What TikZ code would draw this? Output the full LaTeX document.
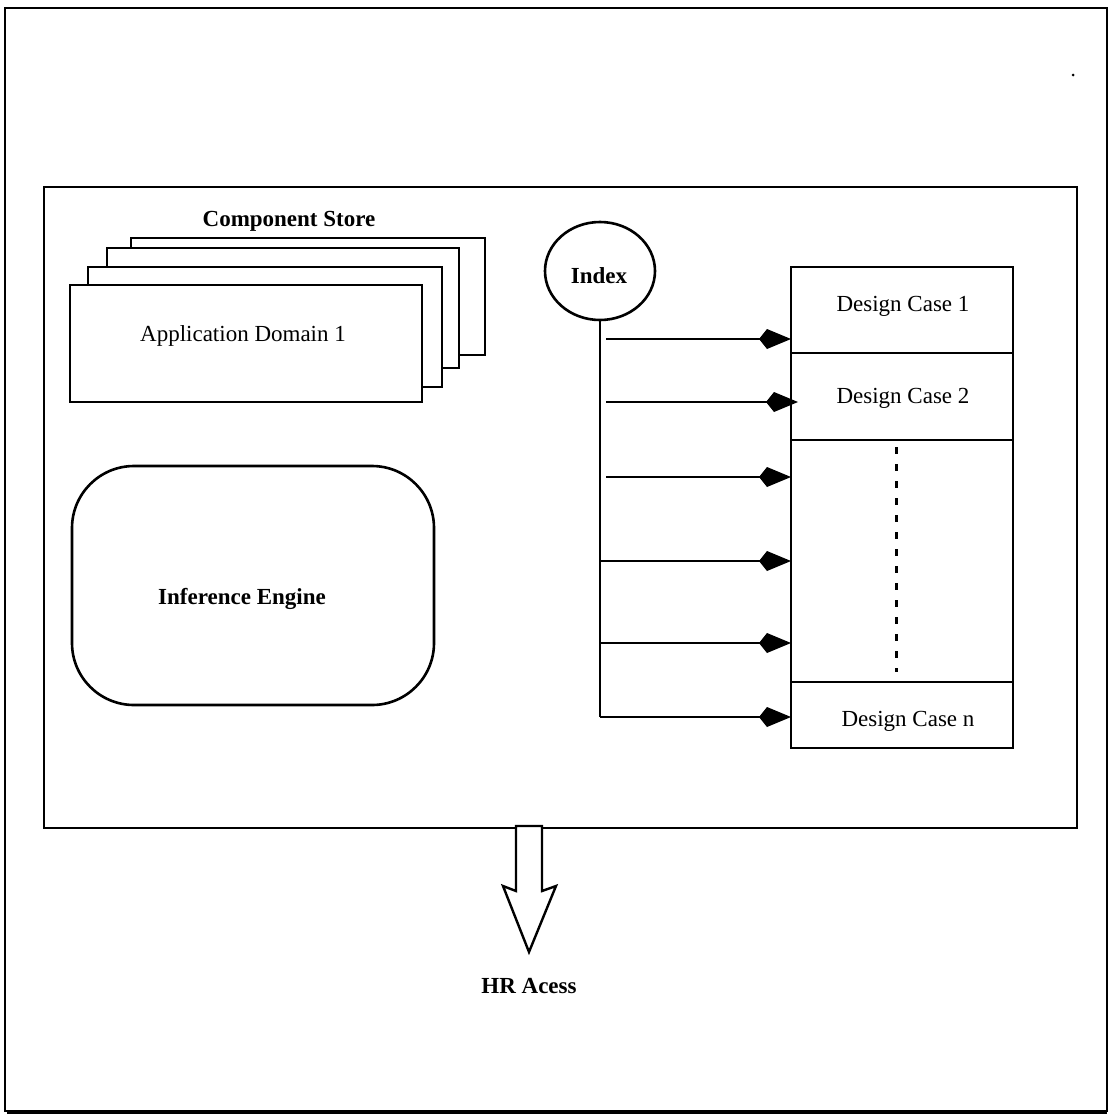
\documentclass[tikz,border=0pt]{standalone}
\usepackage{fontspec}
\setmainfont{Liberation Serif}
\usetikzlibrary{arrows.meta,shapes.geometric}
\begin{document}
\begin{tikzpicture}[x=1pt,y=-1pt,line join=miter,
  txt/.style={inner sep=0pt, anchor=base, font=\fontsize{23}{27}\selectfont},
  btxt/.style={inner sep=0pt, anchor=base, font=\fontsize{23}{27}\selectfont\bfseries},
  frame/.style={draw, line width=2.6pt, fill=white, inner sep=0pt, outer sep=0pt},
  conn/.style={line width=2.8pt},
  arr/.style={line width=2.8pt, -{Kite[length=32pt,width=20pt,inset=8pt]}},
  dots/.style={line width=3pt, dash pattern=on 7pt off 10pt}]
\useasboundingbox (0,0) rectangle (1110,1120);
% outer border
\draw[line width=2.4pt] (5,8) rectangle (1107,1111);
\draw[line width=4pt] (7,1112) -- (1107,1112);
\fill (1073,75) circle (1.5pt);
% inner system box
\node[frame, line width=2.4pt, minimum width=1033pt, minimum height=641pt] (sys) at (560.5,507.5) {};
% component store stack
\node[frame, minimum width=354pt, minimum height=117pt] (b4) at (308,296.5) {};
\node[frame, minimum width=352pt, minimum height=120pt] (b3) at (283,308) {};
\node[frame, minimum width=354pt, minimum height=120pt] (b2) at (265,327) {};
\node[frame, minimum width=352pt, minimum height=117pt] (b1) at (246,343.5) {};
\node[btxt] (cs) at (289,226) {Component Store};
\node[txt] (ad) at (243,341) {Application Domain 1};
% inference engine
\node[frame, rounded corners=62pt, minimum width=362pt, minimum height=239pt] (ie) at (253,585.5) {};
\node[btxt] (iet) at (242,604) {Inference Engine};
% index
\node[frame, ellipse, minimum width=110pt, minimum height=98pt] (idx) at (600,271) {};
\node[btxt] (idxt) at (599,283) {Index};
% design cases
\node[frame, minimum width=222pt, minimum height=86pt] (dc1) at (902,310) {};
\node[frame, minimum width=222pt, minimum height=87pt] (dc2) at (902,396.5) {};
\node[frame, minimum width=222pt, minimum height=242pt] (dcm) at (902,561) {};
\node[frame, minimum width=222pt, minimum height=66pt] (dcn) at (902,715) {};
\node[txt] (dc1t) at (903,311) {Design Case 1};
\node[txt] (dc2t) at (903,403) {Design Case 2};
\node[txt] (dcnt) at (908,726) {Design Case n};
\coordinate (d1) at (896,447);
\coordinate (d2) at (896,672);
\draw[dots] (d1) -- (d2);
% index links
\coordinate (corner) at (600,717);
\coordinate (s1) at (606,339);
\coordinate (s2) at (606,402);
\coordinate (s3) at (606,477);
\coordinate (s4) at (600,561);
\coordinate (s5) at (600,643);
\draw[conn] (idx.south) -- (corner);
\draw[arr] (s1) -- (s1 -| dc1.west);
\draw[arr] (s2) -- ([xshift=7pt]s2 -| dc2.west);
\draw[arr] (s3) -- (s3 -| dcm.west);
\draw[arr] (s4) -- (s4 -| dcm.west);
\draw[arr] (s5) -- (s5 -| dcm.west);
\draw[arr] (corner) -- (corner -| dcn.west);
% output arrow
\draw[line width=2.4pt, fill=white] (516,826) -- (542,826) -- (542,891) -- (556,886) -- (529,952) -- (503,886) -- (516,891) -- cycle;
\node[btxt] (hr) at (529,993) {HR Acess};
\end{tikzpicture}
\end{document}
